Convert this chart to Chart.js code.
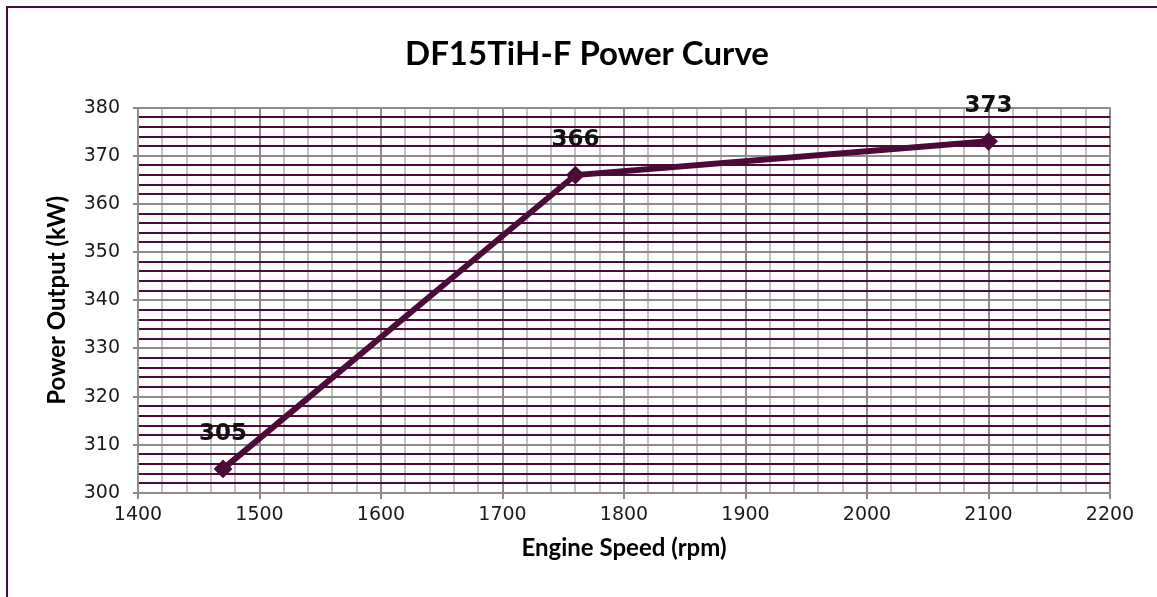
<!DOCTYPE html>
<html>
<head>
<meta charset="utf-8">
<script src="https://cdn.jsdelivr.net/npm/chart.js@4.4.1/dist/chart.umd.min.js"></script>
<style>
  body { margin: 0; background: #fff; }
  #wrap { position: relative; width: 1157px; height: 597px; overflow: hidden; }
  #frame { position: absolute; left: 6px; top: 6px; width: 1200px; height: 700px;
           border-left: 2px solid #4B0A37; border-top: 2px solid #4B0A37; pointer-events: none; }
</style>
</head>
<body>
<div id="wrap">
  <canvas id="power-curve" width="1157" height="597"></canvas>
  <div id="frame"></div>
</div>
<script>
// données
const speed = [1470, 1760, 2100];   // rpm
const power = [305, 366, 373];      // kW

const purple = '#4B0A37';
const majorGrey = '#8c8c8c';
const minorGrey = '#c2c2c2';

// étiquettes de valeur au-dessus des points
const valueLabels = {
  id: 'valueLabels',
  afterDatasetsDraw(chart) {
    const ctx = chart.ctx;
    const meta = chart.getDatasetMeta(0);
    ctx.save();
    ctx.font = 'bold 23px "DejaVu Sans"';
    ctx.fillStyle = '#111';
    ctx.textAlign = 'center';
    ctx.textBaseline = 'middle';
    meta.data.forEach((pt, i) => {
      ctx.fillText(power[i], pt.x, pt.y - 35);
    });
    ctx.restore();
  }
};

const config = {
  type: 'line',
  data: {
    datasets: [{
      label: 'Power Output (kW)',
      data: speed.map((s, i) => ({ x: s, y: power[i] })),
      borderColor: purple,
      backgroundColor: purple,
      borderWidth: 6,
      pointStyle: 'rectRot',
      pointRadius: 8,
      pointBorderWidth: 2,
      pointBackgroundColor: purple,
      pointBorderColor: purple,
      tension: 0
    }]
  },
  options: {
    responsive: false,
    animation: false,
    // marge gauche pour centrer le titre comme sur l'original
    layout: { padding: { left: 64, right: 47, top: 0, bottom: 0 } },
    plugins: {
      legend: { display: false },
      tooltip: { enabled: false },
      title: {
        display: true,
        text: 'DF15TiH-F Power Curve',
        color: '#000',
        font: { family: 'Lato', weight: 'bold', size: 33 },
        padding: { top: 35, bottom: 33 }
      }
    },
    scales: {
      x: {
        type: 'linear',
        min: 1400,
        max: 2200,
        afterFit: s => { s.height = 104; },
        border: { color: majorGrey, width: 2 },
        grid: {
          lineWidth: 2,
          tickLength: 6,
          color: c => (c.tick && c.tick.value % 100 === 0) ? majorGrey : minorGrey,
          tickColor: c => (c.tick && c.tick.value % 100 === 0) ? majorGrey : 'rgba(0,0,0,0)'
        },
        ticks: {
          stepSize: 20,
          autoSkip: false,
          maxRotation: 0,
          padding: 5,
          color: '#1a1a1a',
          font: { family: 'DejaVu Sans', size: 19 },
          callback: v => v % 100 === 0 ? v : ''
        },
        title: {
          display: true,
          text: 'Engine Speed (rpm)',
          color: '#000',
          font: { family: 'Lato', weight: 'bold', size: 24 },
          padding: { top: 0, bottom: 34 }
        }
      },
      y: {
        min: 300,
        max: 380,
        afterFit: s => { s.width = 74; },
        border: { color: majorGrey, width: 2 },
        grid: {
          lineWidth: 2,
          tickLength: 5,
          color: c => (c.tick && c.tick.value % 10 === 0) ? majorGrey : purple,
          tickColor: c => (c.tick && c.tick.value % 10 === 0) ? majorGrey : 'rgba(0,0,0,0)'
        },
        ticks: {
          stepSize: 2,
          autoSkip: false,
          padding: 13,
          color: '#1a1a1a',
          font: { family: 'DejaVu Sans', size: 19 },
          callback: v => v % 10 === 0 ? v : ''
        },
        title: {
          display: true,
          text: 'Power Output (kW)',
          color: '#000',
          font: { family: 'Lato', weight: 'bold', size: 24 },
          padding: { top: -21, bottom: 0 }
        }
      }
    }
  },
  plugins: [valueLabels]
};

const ctx = document.getElementById('power-curve').getContext('2d');
new Chart(ctx, config);
</script>
</body>
</html>
